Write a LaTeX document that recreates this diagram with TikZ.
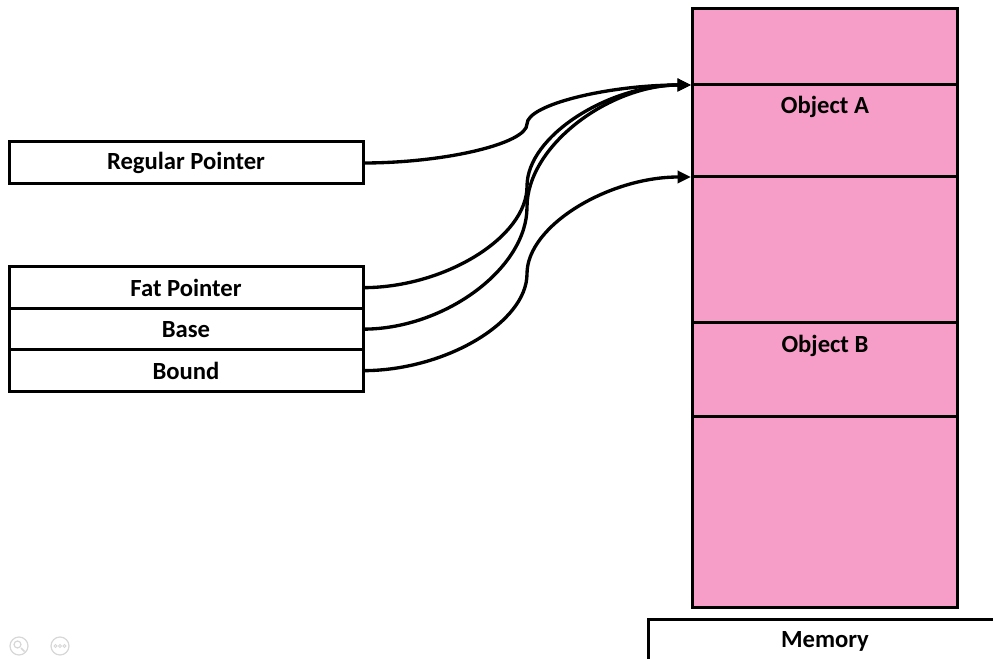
\documentclass[tikz,border=0pt]{standalone}
\usepackage{fontspec}
\setmainfont{Carlito}
\usetikzlibrary{arrows.meta,calc}
\definecolor{mempink}{RGB}{247,158,200}
\definecolor{icongray}{RGB}{215,215,215}
\newcommand\ppcurve[2]{%
  \path ($(#1)!0.25!(#2)$) coordinate (q1)
        ($(#1)!0.5!(#2)$) coordinate (qm)
        ($(#1)!0.75!(#2)$) coordinate (q3);
  \draw[conn] (#1) .. controls (q1 |- #1) and (qm |- q1) .. (qm)
                   .. controls (qm |- q3) and (q3 |- #2) .. (#2);
}
\begin{document}
\begin{tikzpicture}[x=0.75pt,y=-0.75pt,
  font=\fontsize{18.5pt}{20pt}\selectfont\bfseries,
  ptr/.style={draw, line width=2.25pt, fill=white, anchor=north west,
    minimum width=265.5pt, inner sep=0pt, outer sep=0pt},
  memseg/.style={draw, line width=2.25pt, fill=mempink, anchor=north west,
    minimum width=198.75pt, inner sep=0pt, outer sep=0pt},
  lbl/.style={inner sep=0pt},
  conn/.style={line width=2.5pt, -{Triangle[length=10pt,width=9pt]}},
  icon/.style={draw=icongray, line width=0.9pt}]
\useasboundingbox (0,0) rectangle (993,659);

% memory column
\node[memseg, minimum height=57pt]    (seg0) at (692,9)   {};
\node[memseg, minimum height=69pt]    (objA) at (692,85)  {};
\node[memseg, minimum height=109.5pt] (seg2) at (692,177) {};
\node[memseg, minimum height=69.75pt] (objB) at (692,323) {};
\node[memseg, minimum height=143.25pt](seg4) at (692,416) {};
\node[lbl] (objAlabel) at (825,107) {Object A};
\node[lbl] (objBlabel) at (825,346) {Object B};

% memory label box (clipped at picture edge)
\begin{scope}
  \clip (0,0) rectangle (993,659);
  \draw[line width=2.25pt, fill=white] (648,619) rectangle (1010,690);
\end{scope}
\node[lbl] (memlabel) at (825,641) {Memory};

% pointer boxes
\node[ptr, minimum height=31.5pt] (reg)   at (9,142)   {Regular Pointer};
\node[ptr, minimum height=31pt]   (fat)   at (9,267)   {Fat Pointer};
\node[ptr, minimum height=31pt]   (base)  at (9,308.5) {Base};
\node[ptr, minimum height=31pt]   (bound) at (9,350)   {Bound};

% connectors
\coordinate (tA) at ($(objA.north west)+(-1,0)$);
\coordinate (tB) at ($(seg2.north west)+(-1,0)$);
\ppcurve{reg.east}{tA}
\ppcurve{fat.east}{tA}
\ppcurve{base.east}{tA}
\ppcurve{bound.east}{tB}

% faint viewer icons
\draw[icon] (19,646) circle[radius=6.75pt];
\draw[icon] (17.5,644.5) circle[radius=2.6pt];
\draw[icon, line width=1.3pt] (21,648) -- (24.5,651.5);
\draw[icon] (60,646) circle[radius=6.75pt];
\draw[icon, line width=0.6pt] (55.5,646) circle[radius=1.1pt]
  (60,646) circle[radius=1.1pt] (64.5,646) circle[radius=1.1pt];
\end{tikzpicture}
\end{document}
